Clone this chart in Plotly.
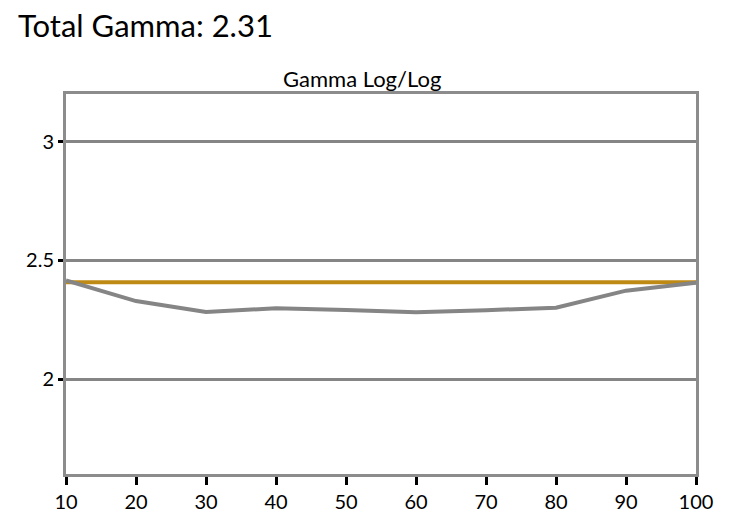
import plotly.graph_objects as go

# Gamma readings by stimulus level
levels = [10, 20, 30, 40, 50, 60, 70, 80, 90, 100]
gamma_measured = [2.415, 2.328, 2.282, 2.298, 2.291, 2.281, 2.290, 2.300, 2.372, 2.405]
gamma_target = [2.407, 2.407, 2.407, 2.407, 2.407, 2.407, 2.407, 2.407, 2.407, 2.407]

x_ticks = [10, 20, 30, 40, 50, 60, 70, 80, 90, 100]
y_ticks = [2, 2.5, 3]
y_tick_labels = ["2", "2.5", "3"]

fig = go.Figure()

fig.add_trace(go.Scatter(
    x=levels,
    y=gamma_target,
    mode='lines',
    line=dict(color='#bf8a14', width=4),
    name='Target',
    cliponaxis=False
))

fig.add_trace(go.Scatter(
    x=levels,
    y=gamma_measured,
    mode='lines',
    line=dict(color='#858585', width=4),
    name='Gamma',
    cliponaxis=False
))

fig.update_layout(
    width=742,
    height=525,
    margin=dict(l=66, r=46, t=94, b=51),
    plot_bgcolor='white',
    paper_bgcolor='white',
    font=dict(family='Lato, "Open Sans", sans-serif', color='black', size=20),
    showlegend=False,
    annotations=[
        dict(text="Total Gamma: 2.31", xref='paper', yref='paper',
             x=0, y=1.0, xanchor='left', yanchor='bottom',
             xshift=-50, yshift=48,
             showarrow=False, font=dict(size=31, color='black')),
        dict(text="Gamma Log/Log", xref='paper', yref='paper',
             x=0.5, y=1.0, xanchor='center', yanchor='bottom',
             xshift=-19, yshift=0,
             showarrow=False, font=dict(size=22, color='black')),
    ]
)

fig.update_xaxes(
    range=[10, 100],
    tickvals=x_ticks,
    ticks='outside',
    ticklen=8,
    tickwidth=3,
    tickcolor='black',
    showgrid=False,
    zeroline=False,
    showline=True,
    linecolor='#8c8c8c',
    linewidth=3,
    mirror=True,
    tickfont=dict(size=20, color='black')
)

fig.update_yaxes(
    range=[1.6, 3.2],
    tickvals=y_ticks,
    ticktext=y_tick_labels,
    ticks='outside',
    ticklen=5,
    tickwidth=3,
    tickcolor='black',
    showgrid=True,
    gridcolor='#858585',
    gridwidth=3,
    zeroline=False,
    showline=True,
    linecolor='#8c8c8c',
    linewidth=3,
    mirror=True,
    tickfont=dict(size=20, color='black')
)

# drop the default body margin so the figure sits at the window's corner
fig.write_html("out.html", config={'displayModeBar': False},
               post_script="document.body.style.margin='0';")
